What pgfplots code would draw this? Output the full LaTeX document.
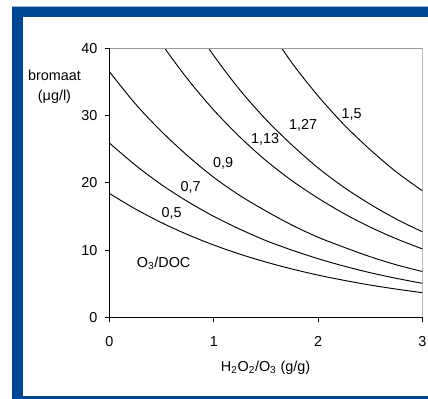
\documentclass[border=0pt]{standalone}
\usepackage{fontspec}
\setmainfont{Liberation Sans}
\usepackage{pgfplots}
\pgfplotsset{compat=1.18}
\definecolor{frameblue}{RGB}{0,71,147}
\begin{document}
\begin{tikzpicture}[x=0.75pt,y=0.75pt,lbl/.style={font=\fontsize{10.8}{12}\selectfont,inner sep=0pt}]
\path[use as bounding box] (0,0) rectangle (428,399);
\fill[frameblue] (12,0) rectangle (440,393);
\fill[frameblue!35] (12,392.6) rectangle (440,393.4);
\fill[white] (22.5,3) rectangle (440,382);
\node[lbl,align=center,font=\fontsize{10.8}{14.6}\selectfont] at (54.5,312) {bromaat\\(μg/l)};
\node[lbl] at (265.5,31) {H\textsubscript{2}O\textsubscript{2}/O\textsubscript{3} (g/g)};
\begin{axis}[
  at={(82.125pt,61.275pt)}, anchor=south west,
  scale only axis, width=234.75pt, height=201.75pt,
  xmin=0, xmax=3, ymin=0, ymax=40,
  xtick={0,1,2,3}, ytick={0,10,20,30,40},
  axis lines=left, axis line style={-, line width=0.75pt, black},
  tick align=outside, major tick length=3.75pt,
  tick style={black, line width=0.75pt},
  /pgf/number format/assume math mode=true,
  tick label style={font=\fontsize{10.8}{12}\selectfont, inner sep=0pt},
  yticklabel style={xshift=-5.1pt},
  xticklabel style={yshift=-10.3pt},
  clip=true,
]
\addplot[black, line width=0.7pt, smooth] coordinates {(0,18.4) (0.25,16.09) (0.5,14.06) (0.75,12.29) (1,10.74) (1.25,9.39) (1.5,8.21) (1.75,7.18) (2,6.27) (2.25,5.49) (2.5,4.79) (2.75,4.19) (3,3.66)};
\addplot[black, line width=0.7pt, smooth] coordinates {(0,25.9) (0.25,22.6) (0.5,19.7) (0.75,17.2) (1,15.0) (1.25,13.1) (1.5,11.4) (1.75,9.98) (2,8.71) (2.25,7.60) (2.5,6.63) (2.75,5.79) (3,5.05)};
\addplot[black, line width=0.7pt, smooth] coordinates {(0,36.5) (0.25,31.7) (0.5,27.6) (0.75,24.0) (1,20.8) (1.25,18.1) (1.5,15.8) (1.75,13.7) (2,11.9) (2.25,10.4) (2.5,9.0) (2.75,7.8) (3,6.8)};
\addplot[black, line width=0.7pt, smooth] coordinates {(0.25,46.7) (0.5,40.67) (0.75,35.4) (1,30.8) (1.25,26.8) (1.5,23.3) (1.75,20.3) (2,17.7) (2.25,15.4) (2.5,13.4) (2.75,11.67) (3,10.16)};
\addplot[black, line width=0.7pt, smooth] coordinates {(0.75,44.7) (1,38.9) (1.25,33.8) (1.5,29.4) (1.75,25.6) (2,22.2) (2.25,19.3) (2.5,16.8) (2.75,14.6) (3,12.7)};
\addplot[black, line width=0.7pt, smooth] coordinates {(1.5,43.5) (1.75,37.8) (2,32.9) (2.25,28.6) (2.5,24.9) (2.75,21.6) (3,18.8)};
\draw[black!40, line width=0.75pt] (rel axis cs:0,1) -- (rel axis cs:1,1) -- (rel axis cs:1,0);
\node[lbl] at (axis cs:2.32,30.2) {1,5};
\node[lbl] at (axis cs:1.856,28.5) {1,27};
\node[lbl] at (axis cs:1.492,26.4) {1,13};
\node[lbl] at (axis cs:1.09,22.9) {0,9};
\node[lbl] at (axis cs:0.778,19.3) {0,7};
\node[lbl] at (axis cs:0.596,15.4) {0,5};
\node[lbl] at (axis cs:0.519,8.07) {O\textsubscript{3}/DOC};
\end{axis}
\end{tikzpicture}
\end{document}
